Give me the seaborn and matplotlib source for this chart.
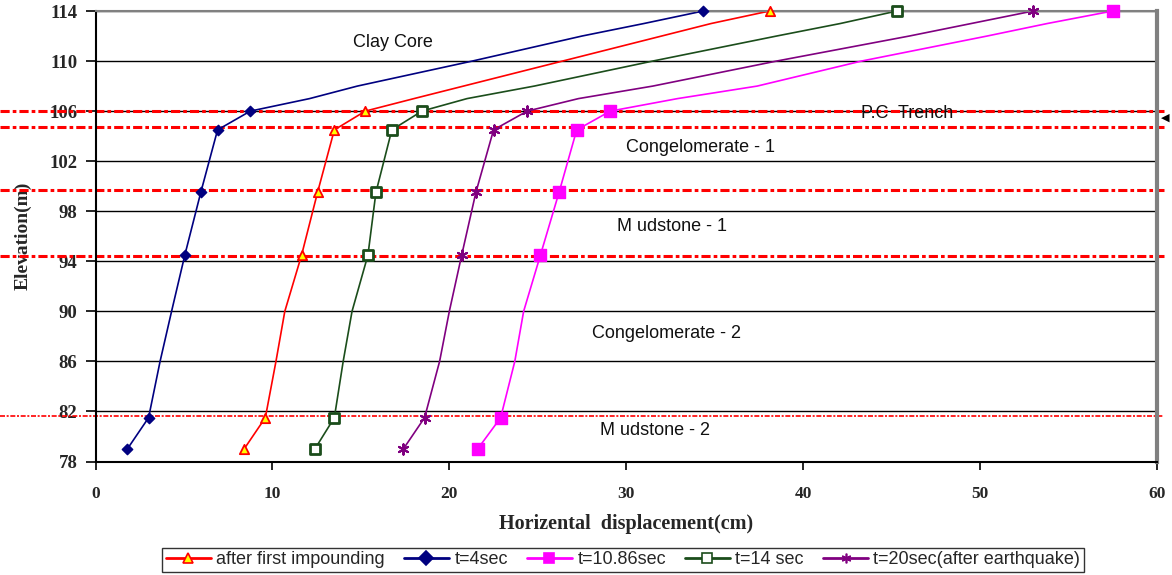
import matplotlib
matplotlib.use("Agg")
import matplotlib.pyplot as plt
from matplotlib.lines import Line2D
import seaborn as sns
import pandas as pd

sns.set_theme(style="white")
plt.rcParams['font.family'] = ['Liberation Sans', 'DejaVu Sans']

# ---------------- data ----------------
elevation = [79, 81.5, 86, 90, 94.5, 99.5, 104.5, 106, 107, 108, 110, 112, 113, 114]
marker_elevation = [79, 81.5, 94.5, 99.5, 104.5, 106, 114]

disp_first_impounding = [8.4, 9.6, 10.2, 10.7, 11.65, 12.55, 13.5, 15.25, 18.0, 20.8, 26.4, 32.0, 34.8, 38.1]
disp_t4 = [1.8, 3.0, 3.65, 4.3, 5.05, 5.95, 6.9, 8.75, 12.1, 14.8, 21.3, 27.5, 31.0, 34.35]
disp_t1086 = [21.6, 22.9, 23.7, 24.2, 25.15, 26.2, 27.2, 29.1, 32.9, 37.4, 43.3, 50.4, 53.8, 57.5]
disp_t14 = [12.4, 13.5, 14.0, 14.5, 15.4, 15.85, 16.75, 18.45, 21.0, 24.8, 31.5, 38.5, 42.1, 45.3]
disp_t20 = [17.4, 18.6, 19.45, 20.0, 20.7, 21.5, 22.5, 24.4, 27.3, 31.5, 38.5, 46.0, 49.5, 53.0]

series_names = ["after first impounding", "t=4sec", "t=10.86sec", "t=14 sec",
                "t=20sec(after earthquake)"]

layer_boundaries = [106, 104.7, 99.7, 94.45, 81.6]
layer_labels = ["Clay Core", "P.C  Trench", "Congelomerate - 1", "M udstone - 1",
                "Congelomerate - 2", "M udstone - 2"]
layer_label_x = [16.8, 45.9, 34.2, 32.6, 32.3, 31.6]
layer_label_y = [111.5, 105.8, 103.1, 96.8, 88.2, 80.5]

x_ticks = [0, 10, 20, 30, 40, 50, 60]
y_ticks = [78, 82, 86, 90, 94, 98, 102, 106, 110, 114]

# ---------------- styles ----------------
styles = {
    "after first impounding": dict(color="#FF0000", marker="^", face="#FFFF00", edge="#FF0000", s=45, lw=1.3),
    "t=4sec": dict(color="#000080", marker="D", face="#000080", edge="#000080", s=28, lw=1.0),
    "t=10.86sec": dict(color="#FF00FF", marker="s", face="#FF00FF", edge="#FF00FF", s=80, lw=1.0),
    "t=14 sec": dict(color="#1B4D1B", marker="s", face="#FFFFFF", edge="#1B4D1B", s=55, lw=2.0),
    "t=20sec(after earthquake)": dict(color="#800080", marker=(6, 2, 0), face="#800080", edge="#800080", s=55, lw=1.5),
}

rows = []
for name, vals in zip(series_names, [disp_first_impounding, disp_t4, disp_t1086, disp_t14, disp_t20]):
    for i, (e, d) in enumerate(zip(elevation, vals)):
        rows.append(dict(series=name, order=i, elev=e, disp=d, is_marker=e in marker_elevation))
df = pd.DataFrame(rows)

W, H = 1172, 575
fig = plt.figure(figsize=(W / 100, H / 100), dpi=100)
ax = fig.add_axes([95.5 / W, 1 - 461.5 / H, (1157 - 95.5) / W, (461.5 - 11) / H])

# horizontal gridlines
for yv in y_ticks:
    ax.axhline(yv, color="black", lw=1.0, zorder=1)

# layer boundaries (red dash-dot)
for i, yb in enumerate(layer_boundaries):
    lw = 1.2 if i == len(layer_boundaries) - 1 else 2.2
    ax.hlines(yb, -5.4, 60.4, colors="#FF0000", lw=lw, linestyles=(0, (3, 1, 1.2, 1)),
              clip_on=False, zorder=2)

for name in series_names:
    st = styles[name]
    sub = df[df.series == name].sort_values("order")
    sns.lineplot(data=sub, x="disp", y="elev", sort=False, estimator=None, color=st["color"],
                 lw=1.2, ax=ax, legend=False, zorder=3)
    m = sub[sub.is_marker]
    sns.scatterplot(data=m, x="disp", y="elev", marker=st["marker"], s=st["s"], color=st["face"],
                    edgecolor=st["edge"], linewidth=st["lw"], ax=ax, legend=False, zorder=7,
                    clip_on=False)

for txt, xx, yy in zip(layer_labels, layer_label_x, layer_label_y):
    ax.text(xx, yy, txt, ha="center", va="center", fontsize=13, color="#111111", zorder=5)

ax.set_xlim(0, 60)
ax.set_ylim(78, 114)
ax.set_xticks(x_ticks)
ax.set_yticks(y_ticks)
ax.set_xticklabels([str(v) for v in x_ticks], fontfamily="Liberation Serif", fontweight="bold", fontsize=12.5)
ax.set_yticklabels([str(v) for v in y_ticks], fontfamily="Liberation Serif", fontweight="bold", fontsize=13.5)
ax.tick_params(axis="y", direction="out", length=7, width=1.2, color="black", pad=6, left=True)
ax.tick_params(axis="x", direction="out", length=6, width=1.2, color="black", pad=12, bottom=True)

ax.set_xlabel("Horizental  displacement(cm)", fontfamily="Liberation Serif", fontweight="bold",
              fontsize=14.5, labelpad=8)
ax.set_ylabel("Elevation(m)", fontfamily="Liberation Serif", fontweight="bold", fontsize=14, labelpad=13)

for sp in ["left", "bottom"]:
    ax.spines[sp].set_color("black")
    ax.spines[sp].set_linewidth(1.5)
ax.spines["top"].set_color("#808080")
ax.spines["top"].set_linewidth(1.5)
ax.spines["right"].set_color("#808080")
ax.spines["right"].set_linewidth(3)
for sp in ax.spines.values():
    sp.set_zorder(6)

fig.text(1165 / W, 1 - 118 / H, "◀", fontsize=8, ha="center", va="center", color="black",
         family="DejaVu Sans")

handles = []
for name in series_names:
    st = styles[name]
    handles.append(Line2D([0], [0], color=st["color"], lw=2, marker=st["marker"],
                          markerfacecolor=st["face"], markeredgecolor=st["edge"],
                          markersize=7, markeredgewidth=1.2))
leg = fig.legend(handles, series_names, loc="center", bbox_to_anchor=(623 / W, 1 - 560 / H),
                 ncol=5, frameon=True, fancybox=False, fontsize=13, handlelength=2.5,
                 handletextpad=0.3, columnspacing=1.05, borderpad=0.2)
leg.get_frame().set_edgecolor("black")
leg.get_frame().set_linewidth(1.0)

fig.savefig("out.png", dpi=100)
